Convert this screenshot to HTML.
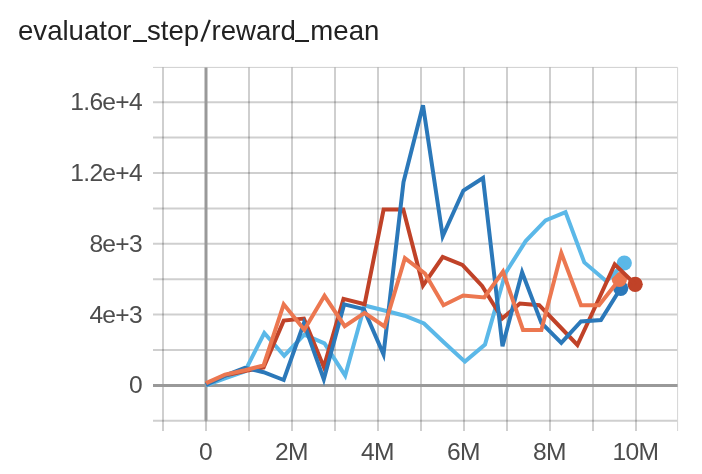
<!DOCTYPE html>
<html><head><meta charset="utf-8"><title>chart</title>
<style>
html,body{margin:0;padding:0;background:#fff;}
body{width:702px;height:474px;overflow:hidden;position:relative;font-family:"Liberation Sans",sans-serif;}
svg{position:absolute;left:0;top:0;will-change:transform;}
svg text{font-family:"Liberation Sans",sans-serif;font-size:24.6px;fill:#4c4c4c;letter-spacing:-0.7px;}
.title{will-change:transform;position:absolute;left:0;top:0;width:702px;height:60px;font-size:27.6px;line-height:30px;color:#222;white-space:nowrap;}
.title span{position:absolute;top:15.6px;}
.title i{position:absolute;top:39.9px;width:13.2px;height:1.9px;background:#222;}
</style></head><body>
<div class="title"><span style="left:18px">evaluator</span><i style="left:133.4px"></i><span style="left:147px">step</span><span style="left:211.5px">reward</span><i style="left:295.4px"></i><span style="left:310.3px">mean</span></div>
<svg width="702" height="474" viewBox="0 0 702 474">
<g>
<line x1="153" x2="677.6" y1="420.8" y2="420.8" stroke="#000" stroke-opacity="0.19" stroke-width="2"/>
<line x1="153" x2="677.6" y1="350.0" y2="350.0" stroke="#000" stroke-opacity="0.19" stroke-width="2"/>
<line x1="153" x2="677.6" y1="314.6" y2="314.6" stroke="#000" stroke-opacity="0.19" stroke-width="2"/>
<line x1="153" x2="677.6" y1="279.2" y2="279.2" stroke="#000" stroke-opacity="0.19" stroke-width="2"/>
<line x1="153" x2="677.6" y1="243.8" y2="243.8" stroke="#000" stroke-opacity="0.19" stroke-width="2"/>
<line x1="153" x2="677.6" y1="208.4" y2="208.4" stroke="#000" stroke-opacity="0.19" stroke-width="2"/>
<line x1="153" x2="677.6" y1="173.0" y2="173.0" stroke="#000" stroke-opacity="0.19" stroke-width="2"/>
<line x1="153" x2="677.6" y1="137.6" y2="137.6" stroke="#000" stroke-opacity="0.19" stroke-width="2"/>
<line x1="153" x2="677.6" y1="102.2" y2="102.2" stroke="#000" stroke-opacity="0.19" stroke-width="2"/>
<line x1="153" x2="677.6" y1="67.4" y2="67.4" stroke="#cfcfcf" stroke-width="1"/>
<line x1="163.0" x2="163.0" y1="67.4" y2="431" stroke="#000" stroke-opacity="0.19" stroke-width="2"/>
<line x1="249.0" x2="249.0" y1="67.4" y2="431" stroke="#000" stroke-opacity="0.19" stroke-width="2"/>
<line x1="292.0" x2="292.0" y1="67.4" y2="431" stroke="#000" stroke-opacity="0.19" stroke-width="2"/>
<line x1="335.0" x2="335.0" y1="67.4" y2="431" stroke="#000" stroke-opacity="0.19" stroke-width="2"/>
<line x1="378.0" x2="378.0" y1="67.4" y2="431" stroke="#000" stroke-opacity="0.19" stroke-width="2"/>
<line x1="421.0" x2="421.0" y1="67.4" y2="431" stroke="#000" stroke-opacity="0.19" stroke-width="2"/>
<line x1="464.0" x2="464.0" y1="67.4" y2="431" stroke="#000" stroke-opacity="0.19" stroke-width="2"/>
<line x1="507.0" x2="507.0" y1="67.4" y2="431" stroke="#000" stroke-opacity="0.19" stroke-width="2"/>
<line x1="550.0" x2="550.0" y1="67.4" y2="431" stroke="#000" stroke-opacity="0.19" stroke-width="2"/>
<line x1="593.0" x2="593.0" y1="67.4" y2="431" stroke="#000" stroke-opacity="0.19" stroke-width="2"/>
<line x1="636.0" x2="636.0" y1="67.4" y2="431" stroke="#000" stroke-opacity="0.19" stroke-width="2"/>
<line x1="677.6" x2="677.6" y1="67.4" y2="431" stroke="#d4d4d4" stroke-width="1"/>
<line x1="153" x2="677.6" y1="385.4" y2="385.4" stroke="#999999" stroke-width="3"/>
<line x1="206.0" x2="206.0" y1="67.4" y2="420.8" stroke="#999999" stroke-width="3"/>
<line x1="206.0" x2="206.0" y1="420.8" y2="431" stroke="#000" stroke-opacity="0.19" stroke-width="2"/>
</g>
<line x1="201.4" y1="41.6" x2="209.8" y2="19.8" stroke="#222" stroke-width="2.2"/>
<g>
<text x="142" y="110.1" text-anchor="end">1.6e+4</text>
<text x="142" y="180.9" text-anchor="end">1.2e+4</text>
<text x="142" y="251.7" text-anchor="end">8e+3</text>
<text x="142" y="322.5" text-anchor="end">4e+3</text>
<text x="142" y="393.3" text-anchor="end">0</text>
<text x="205.4" y="460.1" text-anchor="middle">0</text>
<text x="291.4" y="460.1" text-anchor="middle">2M</text>
<text x="377.4" y="460.1" text-anchor="middle">4M</text>
<text x="463.4" y="460.1" text-anchor="middle">6M</text>
<text x="549.4" y="460.1" text-anchor="middle">8M</text>
<text x="635.4" y="460.1" text-anchor="middle">10M</text>
</g>
<g>
<circle cx="624.3" cy="263.0" r="7.6" fill="#5bb8e8"/>
<circle cx="635.2" cy="284.3" r="7.6" fill="#c04228"/>
<circle cx="620.7" cy="288.3" r="7.6" fill="#2b78b9"/>
<circle cx="619.4" cy="279.5" r="7.6" fill="#ec7750"/>
</g>
<g>
<polyline points="206.0,385.3 225.0,378.3 244.9,371.3 264.3,333.0 284.2,355.7 304.3,334.6 324.5,343.3 345.2,375.6 364.6,305.5 383.5,310.3 404.6,315.7 424.0,323.5 443.5,342.0 464.9,361.6 485.0,344.6 505.5,273.0 525.7,241.1 545.6,220.4 565.5,212.1 584.3,262.4 606.4,281.3 624.3,263.0" fill="none" stroke="#5bb8e8" stroke-width="4" stroke-linejoin="miter" stroke-miterlimit="4"/>
<polyline points="206.1,384.0 225.0,375.5 244.9,371.0 263.6,367.4 283.7,320.6 303.9,318.6 323.8,367.0 343.5,298.9 364.6,304.3 383.6,209.6 403.3,209.6 423.0,285.6 442.7,257.0 462.4,265.0 482.1,286.0 502.2,318.5 519.9,303.5 539.2,305.2 558.3,325.0 577.4,345.0 596.5,304.0 614.7,264.3 635.2,284.3" fill="none" stroke="#c04228" stroke-width="4" stroke-linejoin="miter" stroke-miterlimit="4"/>
<polyline points="206.0,385.0 225.0,375.6 244.9,367.9 263.6,372.2 283.7,380.0 303.9,323.3 323.8,379.3 344.2,304.3 363.9,309.1 383.5,354.3 403.5,182.0 423.0,105.2 442.7,236.3 463.4,190.5 483.0,178.0 502.5,346.2 522.1,272.2 541.4,322.9 561.3,342.8 581.0,321.5 600.9,320.1 620.7,288.3" fill="none" stroke="#2b78b9" stroke-width="4" stroke-linejoin="miter" stroke-miterlimit="4"/>
<polyline points="206.1,383.1 225.0,374.6 244.9,370.3 263.6,365.4 283.7,304.3 304.3,329.7 324.5,295.8 344.7,326.1 364.6,312.8 384.5,326.5 404.9,258.1 425.0,273.5 443.5,305.2 463.2,295.5 484.3,297.5 503.0,271.5 523.0,330.0 541.4,330.0 561.3,253.0 581.0,305.3 599.0,305.3 619.4,279.5" fill="none" stroke="#ec7750" stroke-width="4" stroke-linejoin="miter" stroke-miterlimit="4"/>
</g>
</svg>
</body></html>
